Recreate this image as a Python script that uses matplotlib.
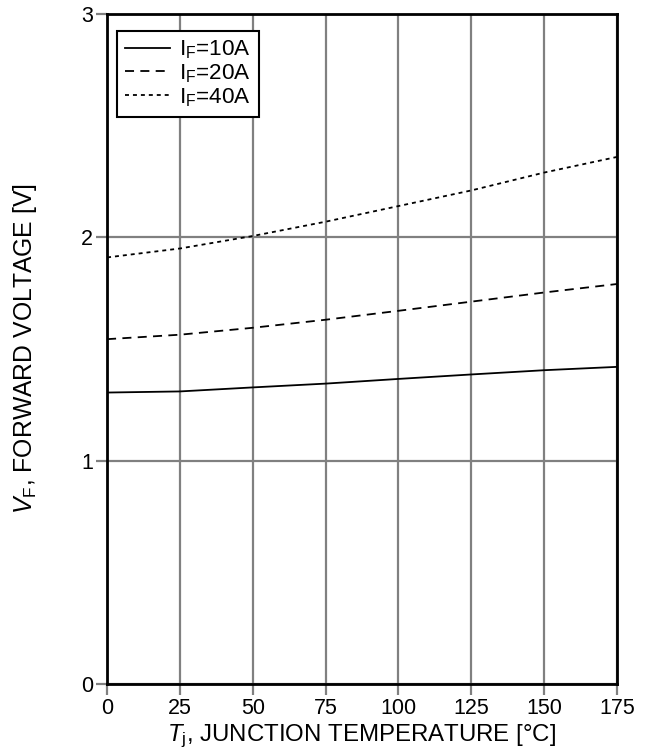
import matplotlib
matplotlib.use("Agg")
import matplotlib.pyplot as plt
import numpy as np

plt.rcParams['font.family'] = ['Liberation Sans', 'DejaVu Sans']
plt.rcParams['mathtext.fontset'] = 'custom'
plt.rcParams['mathtext.rm'] = 'Liberation Sans'
plt.rcParams['mathtext.it'] = 'Liberation Sans:italic'

temps = [0, 25, 50, 75, 100, 125, 150, 175]
vf_10a = [1.305, 1.31, 1.328, 1.345, 1.366, 1.386, 1.405, 1.42]
vf_20a = [1.544, 1.564, 1.595, 1.631, 1.671, 1.712, 1.753, 1.791]
vf_40a = [1.91, 1.95, 2.006, 2.07, 2.14, 2.21, 2.29, 2.36]
labels = ['I$_\\mathrm{F}$=10A', 'I$_\\mathrm{F}$=20A', 'I$_\\mathrm{F}$=40A']
xticks = [0, 25, 50, 75, 100, 125, 150, 175]
yticks = [0, 1, 2, 3]

fig = plt.figure(figsize=(6.45, 7.49), dpi=100)
ax = fig.add_axes([0.166, 0.0868, 0.7906, 0.8945])

ax.plot(temps, vf_10a, color='black', lw=1.3, ls='-', label=labels[0])
ax.plot(temps, vf_20a, color='black', lw=1.3, ls=(0, (5, 3.5)), label=labels[1])
ax.plot(temps, vf_40a, color='black', lw=1.3, ls=(0, (2.2, 2.2)), label=labels[2])

ax.set_xlim(0, 175)
ax.set_ylim(0, 3)
ax.set_xticks(xticks)
ax.set_yticks(yticks)
ax.grid(True, color='#808080', lw=1.6)
ax.set_axisbelow(True)
for s in ax.spines.values():
    s.set_linewidth(2)
    s.set_color('black')
ax.tick_params(direction='out', length=8, width=1.6, color='#808080',
               labelsize=15.5, pad=2)

ax.set_xlabel('$T$$_\\mathrm{j}$, JUNCTION TEMPERATURE [°C]', fontsize=17.3, labelpad=3)
ax.set_ylabel('$V$$_\\mathrm{F}$, FORWARD VOLTAGE [V]', fontsize=17.8, labelpad=30)

leg = ax.legend(loc='upper left', bbox_to_anchor=(0.02, 0.975), fontsize=16.2,
                fancybox=False, framealpha=1, edgecolor='black',
                handlelength=2.0, handletextpad=0.4, borderpad=0.35,
                labelspacing=0.05, borderaxespad=0)
leg.get_frame().set_linewidth(1.5)

fig.savefig('out.png', dpi=100)
